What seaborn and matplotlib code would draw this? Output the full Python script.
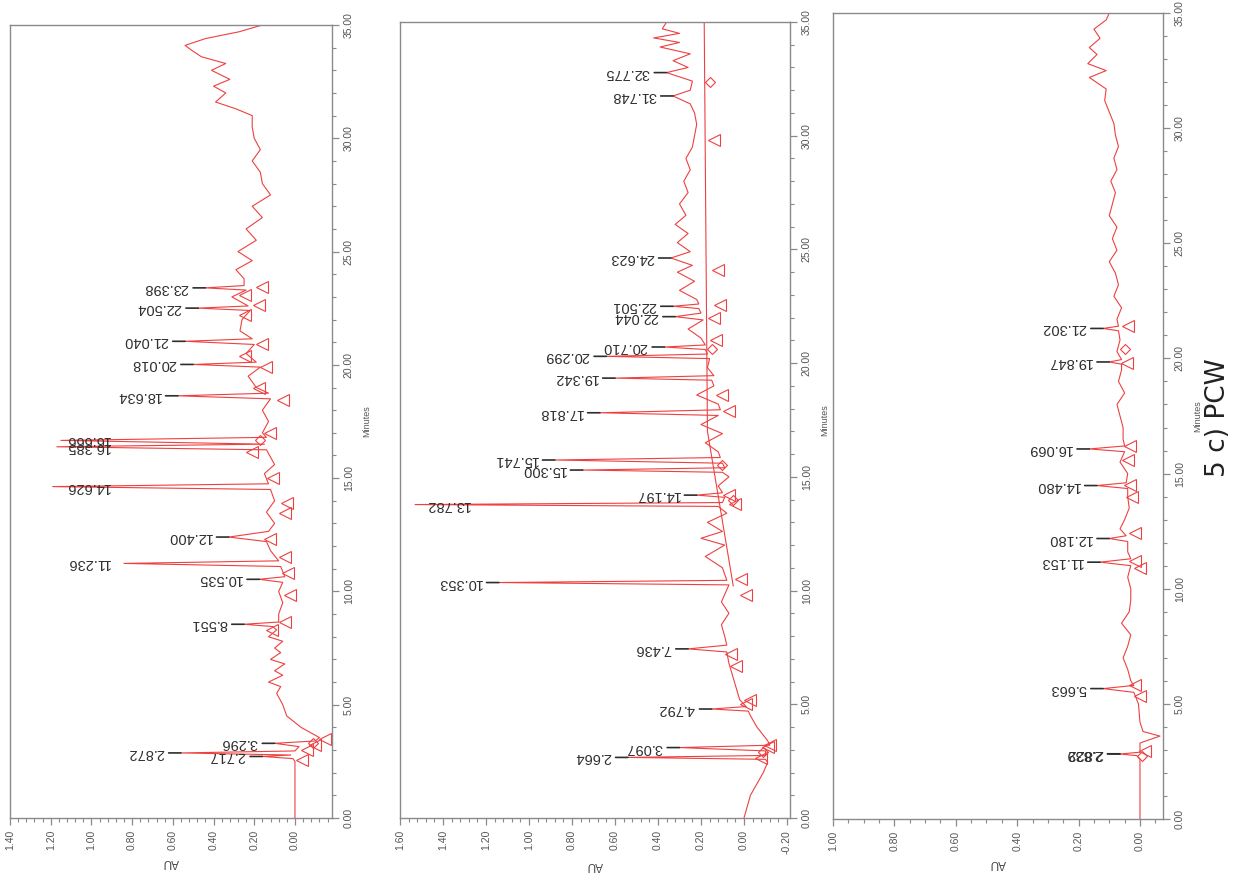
import matplotlib
matplotlib.use("Agg")
import matplotlib.pyplot as plt
import seaborn as sns
from matplotlib.ticker import MultipleLocator, FormatStrFormatter

sns.set_theme(style="white")
plt.rcParams["font.family"] = ["Liberation Sans", "DejaVu Sans"]

RED = "#ee4040"
INK = "#2e2e2e"
GREY = "#8a8a8a"

# ---- panel 1 : trace (minutes, AU) ----
p1_t = [0.0, 2.50, 2.62, 2.717, 2.78, 2.872, 2.96, 3.15, 3.296, 3.40, 3.55, 4.0, 4.5, 5.0, 5.5,
        5.8, 6.0, 6.3, 6.5, 6.8, 7.0, 7.3, 7.5, 7.8, 8.0, 8.3, 8.45, 8.551, 8.65, 9.0, 9.5, 10.0,
        10.4, 10.535, 10.65, 11.1, 11.236, 11.35, 11.8, 12.2, 12.400, 12.65, 13.0, 13.5, 14.0,
        14.5, 14.626, 14.75, 15.2, 15.6, 16.25, 16.385, 16.5, 16.666, 16.8, 17.0, 17.5, 18.0,
        18.5, 18.634, 18.75, 19.0, 19.5, 19.9, 20.018, 20.12, 20.5, 20.9, 21.040, 21.15, 21.5,
        22.0, 22.4, 22.504, 22.6, 23.0, 23.3, 23.398, 23.5, 23.8, 24.2, 24.6, 25.0, 25.5, 26.0,
        26.5, 27.0, 27.5, 28.0, 28.5, 29.0, 29.5, 30.0, 30.5, 31.0, 31.3, 31.6, 32.0, 32.3,
        32.6, 33.0, 33.3, 33.6, 33.9, 34.1, 34.4, 34.7, 35.0]
p1_au = [0.0, 0.0, 0.01, 0.16, 0.02, 0.56, 0.0, -0.02, 0.10, -0.10, -0.12, -0.03, 0.04, 0.06, 0.09,
         0.07, 0.13, 0.06, 0.10, 0.05, 0.12, 0.07, 0.10, 0.06, 0.13, 0.09, 0.11, 0.25, 0.08, 0.08,
         0.06, 0.08, 0.06, 0.175, 0.05, 0.07, 0.84, 0.08, 0.12, 0.14, 0.325, 0.13, 0.10, 0.14, 0.10,
         0.12, 1.19, 0.13, 0.15, 0.10, 0.14, 1.17, 0.15, 1.15, 0.14, 0.16, 0.13, 0.16, 0.12, 0.575,
         0.13, 0.19, 0.23, 0.17, 0.50, 0.19, 0.24, 0.20, 0.54, 0.21, 0.27, 0.26, 0.22, 0.475, 0.23,
         0.31, 0.24, 0.44, 0.25, 0.25, 0.29, 0.21, 0.28, 0.19, 0.24, 0.16, 0.21, 0.12, 0.16, 0.17,
         0.21, 0.17, 0.20, 0.21, 0.21, 0.29, 0.39, 0.34, 0.40, 0.32, 0.41, 0.34, 0.46, 0.51, 0.54,
         0.44, 0.275, 0.16]
p1_pk_t = [2.717, 2.872, 3.296, 8.551, 10.535, 11.236, 12.400, 14.626, 16.385, 16.666, 18.634,
           20.018, 21.040, 22.504, 23.398]
p1_pk_au = [0.16, 0.56, 0.10, 0.25, 0.175, 0.84, 0.325, 1.19, 1.17, 1.15, 0.575, 0.50, 0.54,
            0.475, 0.44]
p1_pk_lab = ["2.717", "2.872", "3.296", "8.551", "10.535", "11.236", "12.400", "14.626", "16.385",
             "16.666", "18.634", "20.018", "21.040", "22.504", "23.398"]
p1_tri_t = [2.56, 3.0, 3.2, 3.5, 8.3, 8.65, 9.85, 10.8, 11.5, 12.3, 13.45, 13.9, 15.0, 16.15,
            17.0, 18.45, 19.0, 19.9, 20.4, 20.9, 22.2, 22.65, 23.1, 23.45]
p1_tri_au = [-0.035, -0.06, -0.10, -0.15, 0.115, 0.05, 0.025, 0.035, 0.05, 0.125, 0.05, 0.04,
             0.11, 0.21, 0.125, 0.06, 0.175, 0.14, 0.245, 0.16, 0.245, 0.175, 0.245, 0.16]
p1_dia_t = [3.3, 16.7]
p1_dia_au = [-0.09, 0.17]
p1_bl_t = []
p1_bl_au = []

# ---- panel 2 ----
p2_t = [0.0, 1.0, 2.0, 2.45, 2.58, 2.664, 2.75, 2.95, 3.097, 3.2, 3.4, 4.0, 4.5, 4.7, 4.792, 4.9,
        5.2, 6.0, 6.8, 7.3, 7.436, 7.6, 8.0, 8.5, 9.0, 9.5, 10.25, 10.353, 10.45, 11.0, 11.5, 12.0,
        12.3, 12.6, 13.0, 13.4, 13.7, 13.782, 13.87, 14.1, 14.197, 14.3, 14.6, 15.0, 15.2, 15.300,
        15.4, 15.6, 15.741, 15.85, 16.1, 16.5, 16.9, 17.3, 17.7, 17.818, 17.95, 18.2, 18.6, 19.0,
        19.25, 19.342, 19.45, 19.8, 20.2, 20.299, 20.4, 20.6, 20.710, 20.8, 21.1, 21.5, 21.9,
        22.044, 22.2, 22.4, 22.501, 22.6, 22.8, 23.2, 23.6, 24.0, 24.3, 24.623, 24.9, 25.3, 25.7,
        26.1, 26.5, 27.0, 27.5, 28.0, 28.5, 29.0, 29.5, 30.0, 30.5, 31.0, 31.4, 31.748, 32.0,
        32.4, 32.775, 33.0, 33.3, 33.6, 33.9, 34.1, 34.3, 34.5, 34.7, 35.0]
p2_au = [0.0, -0.03, -0.09, -0.11, -0.10, 0.54, -0.10, -0.10, 0.30, -0.12, -0.11, -0.06, -0.03,
         -0.02, 0.15, -0.01, 0.02, 0.045, 0.07, 0.08, 0.26, 0.08, 0.09, 0.105, 0.07, 0.105, 0.07,
         1.14, 0.08, 0.10, 0.18, 0.09, 0.20, 0.10, 0.17, 0.08, 0.12, 1.53, 0.10, 0.09, 0.22, 0.10,
         0.12, 0.07, 0.10, 0.75, 0.09, 0.10, 0.88, 0.11, 0.12, 0.18, 0.10, 0.20, 0.12, 0.67, 0.11,
         0.12, 0.22, 0.14, 0.15, 0.60, 0.14, 0.17, 0.16, 0.64, 0.17, 0.18, 0.37, 0.18, 0.20, 0.26,
         0.19, 0.32, 0.20, 0.21, 0.33, 0.21, 0.22, 0.30, 0.23, 0.31, 0.24, 0.34, 0.25, 0.31, 0.26,
         0.32, 0.27, 0.30, 0.26, 0.28, 0.25, 0.27, 0.24, 0.23, 0.22, 0.23, 0.25, 0.33, 0.25, 0.24,
         0.36, 0.26, 0.33, 0.25, 0.39, 0.30, 0.42, 0.30, 0.38, 0.36]
p2_pk_t = [2.664, 3.097, 4.792, 7.436, 10.353, 13.782, 14.197, 15.300, 15.741, 17.818, 19.342,
           20.299, 20.710, 22.044, 22.501, 24.623, 31.748, 32.775]
p2_pk_au = [0.54, 0.30, 0.15, 0.26, 1.14, 1.53, 0.22, 0.75, 0.88, 0.67, 0.60, 0.64, 0.37, 0.32,
            0.33, 0.34, 0.33, 0.36]
p2_pk_lab = ["2.664", "3.097", "4.792", "7.436", "10.353", "13.782", "14.197", "15.300", "15.741",
             "17.818", "19.342", "20.299", "20.710", "22.044", "22.501", "24.623", "31.748", "32.775"]
p2_tri_t = [29.8, 24.1, 22.56, 22.0, 21.0, 18.6, 17.9, 14.2, 13.8, 10.5, 9.8, 7.2, 6.7, 5.0, 5.2,
            3.1, 2.65, 3.2]
p2_tri_au = [0.14, 0.12, 0.11, 0.14, 0.13, 0.10, 0.07, 0.07, 0.04, 0.015, -0.01, 0.06, 0.035,
             -0.01, -0.03, -0.11, -0.08, -0.12]
p2_dia_t = [32.37, 20.6, 15.5, 14.0, 2.9]
p2_dia_au = [0.16, 0.15, 0.10, 0.05, -0.09]
p2_bl_t = [10.2, 17.0, 35.0]
p2_bl_au = [0.05, 0.17, 0.185]

# ---- panel 3 ----
p3_t = [0.0, 2.6, 2.75, 2.822, 2.9, 3.3, 3.6, 3.8, 4.2, 5.0, 5.5, 5.663, 5.8, 6.0, 6.5, 7.0, 7.5,
        8.0, 8.5, 9.0, 9.5, 10.0, 10.5, 11.0, 11.153, 11.3, 11.6, 12.05, 12.18, 12.3, 12.6, 13.0,
        13.5, 14.0, 14.35, 14.48, 14.6, 15.0, 15.5, 15.95, 16.069, 16.2, 16.5, 17.0, 17.5, 18.0,
        18.5, 19.0, 19.5, 19.75, 19.847, 19.95, 20.3, 20.8, 21.2, 21.302, 21.4, 21.7, 22.2, 22.7,
        23.2, 23.7, 24.2, 24.7, 25.2, 25.7, 26.2, 26.7, 27.2, 27.7, 28.2, 28.7, 29.2, 29.7, 30.2,
        30.7, 31.2, 31.7, 32.2, 32.5, 32.8, 33.2, 33.5, 33.9, 34.3, 34.7, 35.0]
p3_au = [0.0, 0.0, 0.01, 0.065, 0.0, 0.0, -0.065, -0.01, 0.0, 0.005, 0.02, 0.12, 0.02, 0.03, 0.04,
         0.055, 0.04, 0.03, 0.06, 0.035, 0.03, 0.03, 0.04, 0.03, 0.13, 0.03, 0.04, 0.04, 0.10,
         0.045, 0.065, 0.05, 0.035, 0.04, 0.04, 0.14, 0.045, 0.04, 0.065, 0.05, 0.165, 0.05, 0.055,
         0.055, 0.065, 0.075, 0.05, 0.07, 0.06, 0.06, 0.10, 0.06, 0.075, 0.065, 0.07, 0.12, 0.07,
         0.075, 0.06, 0.085, 0.07, 0.08, 0.10, 0.075, 0.09, 0.075, 0.10, 0.09, 0.08, 0.095, 0.075,
         0.085, 0.07, 0.08, 0.085, 0.10, 0.115, 0.11, 0.165, 0.11, 0.17, 0.14, 0.165, 0.13, 0.15,
         0.11, 0.10]
p3_pk_t = [2.822, 2.832, 5.663, 11.153, 12.180, 14.480, 16.069, 19.847, 21.302]
p3_pk_au = [0.065, 0.066, 0.12, 0.13, 0.10, 0.14, 0.165, 0.10, 0.12]
p3_pk_lab = ["2.822", "2.839", "5.663", "11.153", "12.180", "14.480", "16.069", "19.847", "21.302"]
p3_tri_t = [2.96, 5.8, 5.35, 11.2, 10.9, 12.4, 14.5, 14.0, 16.2, 15.6, 19.8, 21.4]
p3_tri_au = [-0.016, 0.016, 0.0, 0.016, 0.0, 0.016, 0.033, 0.026, 0.033, 0.04, 0.042, 0.04]
p3_dia_t = [2.74, 20.4]
p3_dia_au = [-0.007, 0.05]
p3_bl_t = []
p3_bl_au = []

AU_TICKS_1 = [0.0, 0.2, 0.4, 0.6, 0.8, 1.0, 1.2, 1.4]
AU_TICKS_2 = [-0.2, 0.0, 0.2, 0.4, 0.6, 0.8, 1.0, 1.2, 1.4, 1.6]
AU_TICKS_3 = [0.0, 0.2, 0.4, 0.6, 0.8, 1.0]
MIN_TICKS = [0, 5, 10, 15, 20, 25, 30, 35]

panels = [
    dict(rect=[10, 25, 332, 818], xlim=(1.40, -0.182), ticks=AU_TICKS_1, minor=0.04, clamp=100,
         t=p1_t, au=p1_au, pk_t=p1_pk_t, pk_au=p1_pk_au, lab=p1_pk_lab,
         tri_t=p1_tri_t, tri_au=p1_tri_au, dia_t=p1_dia_t, dia_au=p1_dia_au,
         bl_t=p1_bl_t, bl_au=p1_bl_au),
    dict(rect=[400, 22, 790, 818], xlim=(1.60, -0.214), ticks=AU_TICKS_2, minor=0.04, clamp=70,
         t=p2_t, au=p2_au, pk_t=p2_pk_t, pk_au=p2_pk_au, lab=p2_pk_lab,
         tri_t=p2_tri_t, tri_au=p2_tri_au, dia_t=p2_dia_t, dia_au=p2_dia_au,
         bl_t=p2_bl_t, bl_au=p2_bl_au),
    dict(rect=[833, 13, 1163, 819], xlim=(1.00, -0.075), ticks=AU_TICKS_3, minor=0.05, clamp=70,
         t=p3_t, au=p3_au, pk_t=p3_pk_t, pk_au=p3_pk_au, lab=p3_pk_lab,
         tri_t=p3_tri_t, tri_au=p3_tri_au, dia_t=p3_dia_t, dia_au=p3_dia_au,
         bl_t=p3_bl_t, bl_au=p3_bl_au),
]

W, H = 1235, 880
fig = plt.figure(figsize=(W / 100, H / 100), dpi=100)

for p in panels:
    x0, y0, x1, y1 = p["rect"]
    ax = fig.add_axes([x0 / W, 1 - y1 / H, (x1 - x0) / W, (y1 - y0) / H])
    ax.set_xlim(*p["xlim"])
    ax.set_ylim(0, 35)

    sns.lineplot(x=p["au"], y=p["t"], sort=False, estimator=None, color=RED, linewidth=0.8, ax=ax)
    if p["bl_t"]:
        sns.lineplot(x=p["bl_au"], y=p["bl_t"], sort=False, estimator=None, color=RED,
                     linewidth=0.8, ax=ax)
    ax.plot(p["tri_au"], p["tri_t"], ls="none", marker="<", ms=8, mfc="none", mec=RED, mew=0.8)
    ax.plot(p["dia_au"], p["dia_t"], ls="none", marker="D", ms=5.5, mfc="none", mec=RED, mew=0.8)

    # peak labels, upside down like the rotated print-out
    left_px = x0
    for t, a, lab in zip(p["pk_t"], p["pk_au"], p["lab"]):
        xa, ya = ax.transData.transform((a, t))
        xt = xa - 17
        lead = True
        if xt < left_px + p["clamp"]:
            xt = left_px + p["clamp"]
            lead = False
        tx = ax.transData.inverted().transform((xt, ya))[0]
        ax.annotate(lab, xy=(a, t), xytext=(tx, t), rotation=180, ha="right", va="center",
                    fontsize=10.5, color=INK,
                    arrowprops=dict(arrowstyle="-", color=INK, lw=1.2, shrinkA=1, shrinkB=0)
                    if lead else None)

    for s in ax.spines.values():
        s.set_color(GREY)
        s.set_linewidth(1.0)

    ax.set_xticks(p["ticks"])
    ax.xaxis.set_minor_locator(MultipleLocator(p["minor"]))
    ax.xaxis.set_major_formatter(FormatStrFormatter("%.2f"))
    ax.yaxis.tick_right()
    ax.yaxis.set_label_position("right")
    ax.set_yticks(MIN_TICKS)
    ax.yaxis.set_minor_locator(MultipleLocator(1))
    ax.yaxis.set_major_formatter(FormatStrFormatter("%.2f"))
    ax.tick_params(axis="both", which="both", direction="out", colors=GREY, labelcolor="#555555",
                   labelsize=7.5)
    ax.tick_params(axis="x", which="both", bottom=True, labelrotation=90)
    ax.tick_params(axis="y", which="both", right=True, left=False, labelrotation=90)
    ax.tick_params(which="major", length=5, width=0.9)
    ax.tick_params(which="minor", length=3, width=0.8)
    for lbl in ax.get_yticklabels():
        lbl.set_va("center")
    ax.set_xlabel("AU", rotation=180, fontsize=8.5, color="#444444", labelpad=4)
    ax.set_ylabel("Minutes", rotation=90, fontsize=6.5, color="#555555", labelpad=6)

fig.text(1218 / W, 1 - 418 / H, "5 c) PCW", rotation=90, ha="center", va="center",
         fontsize=19, color="#222222", family=["DejaVu Sans"])

fig.savefig("out.png", dpi=100)
